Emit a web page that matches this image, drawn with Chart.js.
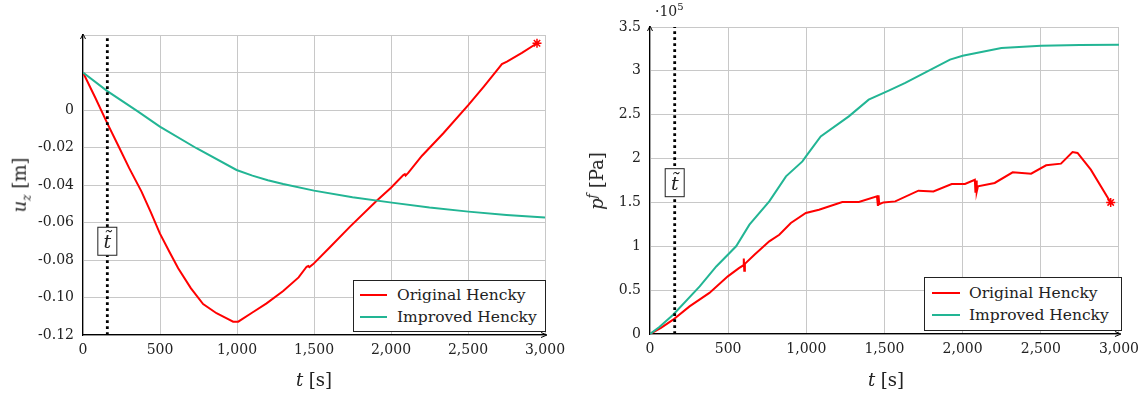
<!DOCTYPE html>
<html>
<head>
<meta charset="utf-8">
<script src="https://cdn.jsdelivr.net/npm/chart.js@4"></script>
<style>
body { margin: 0; background: #fff; width: 1146px; height: 394px; overflow: hidden; position: relative; font-family: "DejaVu Serif", serif; color: #222; }
.wrap { position: absolute; top: 0; width: 573px; height: 394px; }
.axtitle { position: absolute; font-size: 18px; white-space: nowrap; transform: translate(-50%, -50%); }
.axtitle.rot { transform: translate(-50%, -50%) rotate(-90deg); }
.axtitle sub, .axtitle sup { font-size: 12px; }
.legend { position: absolute; border: 1px solid #222; background: #fff; font-size: 15.5px; box-sizing: border-box; }
.legend .row { position: absolute; left: 0; height: 22px; line-height: 22px; white-space: nowrap; }
.legend .swatch { position: absolute; height: 2px; top: 10px; }
.legend .lbl { position: absolute; top: 0; }
.mult { position: absolute; left: 655px; top: 1px; font-size: 14px; }
.mult sup { font-size: 10px; }
</style>
</head>
<body>
<div class="wrap" id="leftWrap" style="left:0"><canvas id="uzChart" width="573" height="394"></canvas></div>
<div class="wrap" id="rightWrap" style="left:573px"><canvas id="pfChart" width="573" height="394"></canvas></div>

<div class="axtitle rot" style="left:21px; top:185px"><i>u<sub>z</sub></i> [m]</div>
<div class="axtitle" style="left:314px; top:379px"><i>t</i> [s]</div>
<div class="axtitle rot" style="left:596px; top:181px"><i>p<sup>f</sup></i> [Pa]</div>
<div class="axtitle" style="left:886px; top:379px"><i>t</i> [s]</div>
<div class="mult">&middot;10<sup>5</sup></div>

<div class="legend" id="uzLegend" style="left:353px; top:280px; width:193px; height:52px"></div>
<div class="legend" id="pfLegend" style="left:924px; top:277px; width:198px; height:54px"></div>

<script>
// series names
const seriesNames = ['Original Hencky', 'Improved Hencky'];
const seriesColors = ['#ff0000', '#22b594'];

// time of the t~ marker [s]
const tTilde = 158;

// x ticks
const timeTicks = [0, 500, 1000, 1500, 2000, 2500, 3000];

// u_z [m] - original Hencky
const uzOrigT = [0, 80, 158, 238, 300, 380, 440, 499, 560, 618, 700, 780, 867, 930, 975, 1008, 1100, 1192, 1300, 1400, 1452, 1463, 1470, 1495, 1600, 1734, 1907, 2000, 2080, 2090, 2095, 2113, 2200, 2340, 2503, 2600, 2698, 2720, 2753, 2850, 2948];
const uzOrigV = [0.02, 0.0065, -0.0071, -0.0205, -0.031, -0.0435, -0.0545, -0.0658, -0.0755, -0.0844, -0.095, -0.1035, -0.1084, -0.111, -0.1129, -0.1129, -0.108, -0.1031, -0.0965, -0.0893, -0.0836, -0.0832, -0.0838, -0.0822, -0.0735, -0.0622, -0.0484, -0.0415, -0.0347, -0.0342, -0.035, -0.0334, -0.0245, -0.0124, 0.0027, 0.0122, 0.0222, 0.0245, 0.0258, 0.0305, 0.0356];

// u_z [m] - improved Hencky
const uzImpT = [0, 158, 358, 499, 737, 997, 1100, 1200, 1300, 1500, 1750, 2005, 2250, 2503, 2750, 3000];
const uzImpV = [0.02, 0.0101, -0.0009, -0.0089, -0.0204, -0.032, -0.035, -0.0375, -0.0395, -0.043, -0.0465, -0.0494, -0.052, -0.0542, -0.056, -0.0574];

// u_z axis ticks
const uzTicks = [-0.12, -0.1, -0.08, -0.06, -0.04, -0.02, 0, 0.02, 0.04];

// p^f [1e5 Pa] - original Hencky
const pfOrigT = [0, 70, 148, 253, 380, 498, 571, 595, 600, 603, 607, 668, 763, 827, 901, 997, 1081, 1230, 1336, 1452, 1458, 1462, 1466, 1493, 1569, 1717, 1813, 1930, 2015, 2078, 2082, 2086, 2090, 2098, 2205, 2320, 2438, 2534, 2629, 2703, 2735, 2820, 2947];
const pfOrigV = [0, 0.07, 0.163, 0.315, 0.468, 0.657, 0.753, 0.78, 0.86, 0.72, 0.8, 0.904, 1.056, 1.132, 1.266, 1.38, 1.417, 1.505, 1.505, 1.569, 1.46, 1.58, 1.48, 1.5, 1.512, 1.634, 1.626, 1.71, 1.71, 1.759, 1.61, 1.75, 1.62, 1.683, 1.722, 1.843, 1.828, 1.923, 1.942, 2.075, 2.064, 1.874, 1.5];

// p^f [1e5 Pa] - improved Hencky
const pfImpT = [0, 60, 148, 318, 424, 551, 636, 763, 870, 975, 1000, 1092, 1272, 1399, 1527, 1633, 1919, 2000, 2248, 2502, 2750, 3000];
const pfImpV = [0, 0.08, 0.22, 0.543, 0.77, 1.0, 1.246, 1.512, 1.797, 1.968, 2.03, 2.253, 2.481, 2.672, 2.774, 2.862, 3.128, 3.173, 3.261, 3.287, 3.295, 3.299];

// p^f axis ticks
const pfTicks = [0, 0.5, 1, 1.5, 2, 2.5, 3, 3.5];

const textColor = '#222';
const gridColor = '#c8c8c8';
const fontFamily = '"DejaVu Serif", serif';

function toPoints(t, v) {
    return t.map((x, i) => ({ x: x, y: v[i] }));
}

function lineDataset(i, t, v) {
    const n = t.length;
    return {
        label: seriesNames[i],
        data: toPoints(t, v),
        borderColor: seriesColors[i],
        backgroundColor: seriesColors[i],
        borderWidth: 2,
        pointStyle: 'star',
        pointBorderWidth: 1.5,
        pointRadius: i === 0 ? (c => c.dataIndex === n - 1 ? 4.5 : 0) : 0,
        pointHoverRadius: 0
    };
}

function markerDataset(yMin, yMax) {
    return {
        label: 'tTilde',
        data: [{ x: tTilde, y: yMin }, { x: tTilde, y: yMax }],
        borderColor: '#000',
        borderWidth: 2.8,
        borderDash: [2.8, 3.2],
        pointRadius: 0
    };
}

// t~ box and axis arrows
const decorPlugin = {
    id: 'decor',
    afterDatasetsDraw(chart, args, opts) {
        const { ctx, chartArea: a, scales: { x, y } } = chart;
        const px = x.getPixelForValue(tTilde);
        const py = y.getPixelForValue(opts.boxY);
        ctx.save();
        ctx.fillStyle = '#fff';
        ctx.strokeStyle = textColor;
        ctx.lineWidth = 1;
        ctx.fillRect(px - 9.5, py - 14, 19, 28);
        ctx.strokeRect(px - 9.5, py - 14, 19, 28);
        ctx.fillStyle = textColor;
        ctx.font = 'italic 19px ' + fontFamily;
        ctx.textAlign = 'center';
        ctx.textBaseline = 'middle';
        ctx.fillText('t\u0303', px, py + 2);

        // arrow heads
        ctx.strokeStyle = '#000';
        ctx.lineWidth = 1;
        ctx.beginPath();
        ctx.moveTo(a.left - 2.5, a.top + 4);
        ctx.lineTo(a.left, a.top - 1);
        ctx.lineTo(a.left + 2.5, a.top + 4);
        ctx.moveTo(a.right - 4, a.bottom - 2.5);
        ctx.lineTo(a.right + 2, a.bottom);
        ctx.lineTo(a.right - 4, a.bottom + 2.5);
        ctx.stroke();
        ctx.restore();
    }
};

function makeOptions(cfg) {
    return {
        responsive: false,
        animation: false,
        events: [],
        layout: { padding: { top: cfg.padTop, right: cfg.padRight, left: 0, bottom: 0 } },
        plugins: {
            legend: { display: false },
            tooltip: { enabled: false },
            decor: { boxY: cfg.boxY }
        },
        scales: {
            x: {
                type: 'linear',
                min: 0,
                max: 3000,
                afterBuildTicks: s => { s.ticks = timeTicks.map(v => ({ value: v })); },
                afterFit: s => { s.height = cfg.xHeight; },
                ticks: {
                    color: textColor,
                    padding: 7,
                    font: { family: fontFamily, size: 14 },
                    maxRotation: 0,
                    callback: v => v.toLocaleString('en-US')
                },
                grid: { color: gridColor, drawTicks: false },
                border: { color: '#000', width: 1.2 }
            },
            y: {
                type: 'linear',
                min: cfg.yTicks[0],
                max: cfg.yTicks[cfg.yTicks.length - 1],
                afterBuildTicks: s => { s.ticks = cfg.yTicks.map(v => ({ value: v })); },
                afterFit: s => { s.width = cfg.yWidth; },
                ticks: {
                    color: textColor,
                    padding: 9,
                    font: { family: fontFamily, size: 14 },
                    callback: cfg.yLabel
                },
                grid: { color: gridColor, drawTicks: false },
                border: { color: '#000', width: 1.2 }
            }
        }
    };
}

new Chart(document.getElementById('uzChart'), {
    type: 'line',
    data: {
        datasets: [
            markerDataset(uzTicks[0], uzTicks[uzTicks.length - 1]),
            lineDataset(1, uzImpT, uzImpV),
            lineDataset(0, uzOrigT, uzOrigV)
        ]
    },
    options: makeOptions({
        padTop: 35, padRight: 28, xHeight: 59, yWidth: 83, boxY: -0.07,
        yTicks: uzTicks,
        yLabel: v => v > 0.001 ? '' : (Math.abs(v) < 1e-9 ? '0' : v.toFixed(2))
    }),
    plugins: [decorPlugin]
});

new Chart(document.getElementById('pfChart'), {
    type: 'line',
    data: {
        datasets: [
            markerDataset(pfTicks[0], pfTicks[pfTicks.length - 1]),
            lineDataset(1, pfImpT, pfImpV),
            lineDataset(0, pfOrigT, pfOrigV)
        ]
    },
    options: makeOptions({
        padTop: 27, padRight: 24, xHeight: 60, yWidth: 77, boxY: 1.725,
        yTicks: pfTicks,
        yLabel: v => Number.isInteger(v) ? String(v) : v.toFixed(1)
    }),
    plugins: [decorPlugin]
});

// HTML legends
function buildLegend(id, cfg) {
    const box = document.getElementById(id);
    seriesNames.forEach((name, i) => {
        const row = document.createElement('div');
        row.className = 'row';
        row.style.top = cfg.rows[i] + 'px';
        row.innerHTML = `<div class="swatch" style="left:${cfg.swLeft}px;width:${cfg.swWidth}px;background:${seriesColors[i]}"></div>` +
            `<div class="lbl" style="left:${cfg.txtLeft}px">${name}</div>`;
        box.appendChild(row);
    });
}
buildLegend('uzLegend', { rows: [3, 25], swLeft: 6, swWidth: 27, txtLeft: 43 });
buildLegend('pfLegend', { rows: [4, 26], swLeft: 7, swWidth: 28, txtLeft: 44 });
</script>
</body>
</html>
